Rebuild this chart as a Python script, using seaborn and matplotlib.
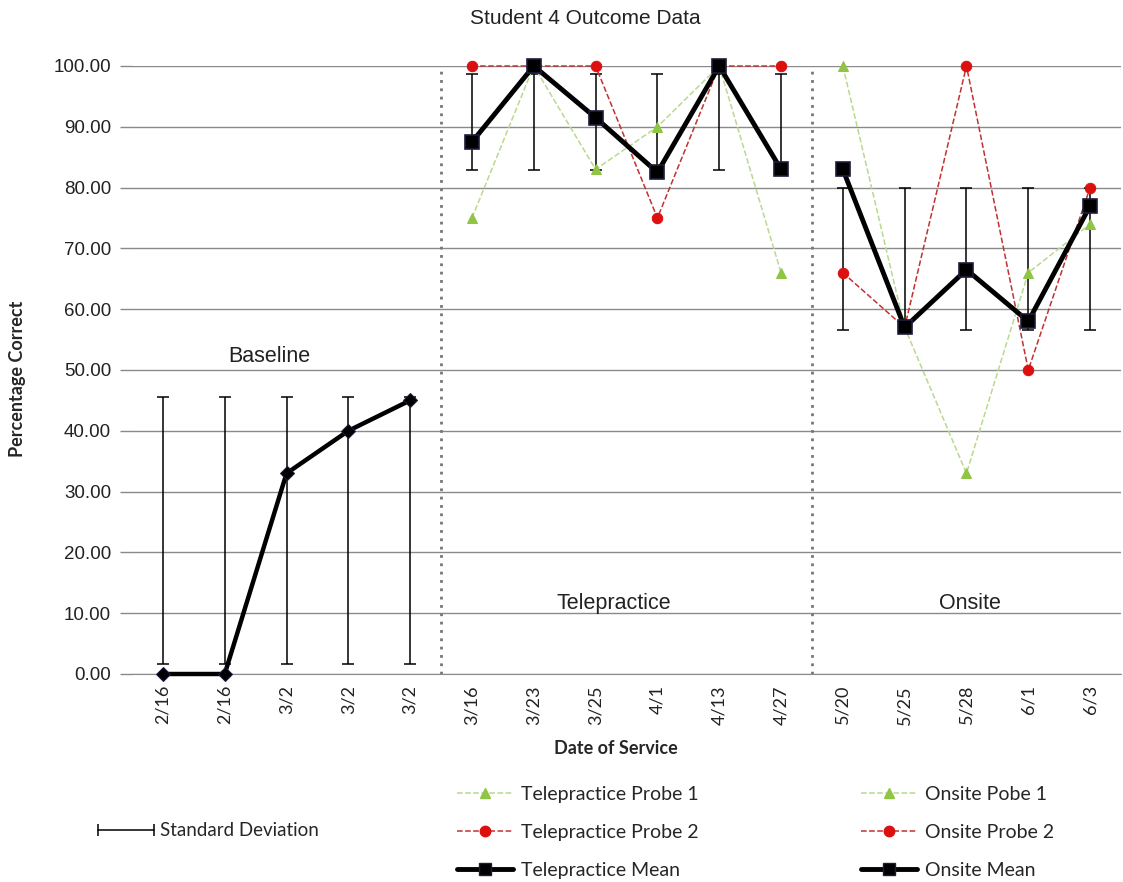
import matplotlib
matplotlib.use("Agg")
import matplotlib.pyplot as plt
from matplotlib.lines import Line2D
import numpy as np
import pandas as pd
import seaborn as sns

# Data

dates = ['2/16', '2/16', '3/2', '3/2', '3/2', '3/16', '3/23', '3/25', '4/1',
         '4/13', '4/27', '5/20', '5/25', '5/28', '6/1', '6/3']

baseline_pos = [0, 1, 2, 3, 4]
tele_pos = [5, 6, 7, 8, 9, 10]
onsite_pos = [11, 12, 13, 14, 15]

baseline_mean = [0, 0, 33, 40, 45]
tele_probe1 = [75, 100, 83, 90, 100, 66]
tele_probe2 = [100, 100, 100, 75, 100, 100]
tele_mean = [87.5, 100, 91.5, 82.5, 100, 83]
onsite_probe1 = [100, 57, 33, 66, 74]
onsite_probe2 = [66, 57, 100, 50, 80]
onsite_mean = [83, 57, 66.5, 58, 77]

# standard deviation of each phase (bars centred on the phase mean, as Excel does)
baseline_sd = 22.0
tele_sd = 7.9
onsite_sd = 11.7

GREEN = '#8fc444'
GREEN_LINE = '#b9d98f'
RED = '#dd1010'
RED_LINE = '#c43030'
NAVY = '#1c1c3c'

sns.set_style("white")

fig = plt.figure(figsize=(11.23, 8.82), dpi=100)
ax = fig.add_axes([132/1123, 1-674/882, (1121-132)/1123, (674-66)/882])

frames = []
for name, pos, vals in [('baseline', baseline_pos, baseline_mean),
                        ('tp1', tele_pos, tele_probe1),
                        ('tp2', tele_pos, tele_probe2),
                        ('tm', tele_pos, tele_mean),
                        ('op1', onsite_pos, onsite_probe1),
                        ('op2', onsite_pos, onsite_probe2),
                        ('om', onsite_pos, onsite_mean)]:
    frames.append(pd.DataFrame({'pos': pos, 'value': vals, 'series': name}))
df = pd.concat(frames, ignore_index=True)

# error bars
for pos, vals, sd in [(baseline_pos, baseline_mean, baseline_sd),
                      (tele_pos, tele_mean, tele_sd),
                      (onsite_pos, onsite_mean, onsite_sd)]:
    centre = np.full(len(pos), np.mean(vals))
    ax.errorbar(pos, centre, yerr=sd, fmt='none', ecolor='black',
                elinewidth=1.1, capsize=4, capthick=1.1, zorder=2)

probe_style = dict(linestyle='--', linewidth=1.1, markersize=7.5, clip_on=False, zorder=3)
for name in ['tp1', 'op1']:
    sns.lineplot(data=df[df.series == name], x='pos', y='value', ax=ax,
                 color=GREEN_LINE, marker='^', markerfacecolor=GREEN,
                 markeredgecolor=GREEN, **probe_style)
for name in ['tp2', 'op2']:
    sns.lineplot(data=df[df.series == name], x='pos', y='value', ax=ax,
                 color=RED_LINE, marker='o', markerfacecolor=RED,
                 markeredgecolor=RED, **probe_style)
for name in ['tm', 'om']:
    sns.lineplot(data=df[df.series == name], x='pos', y='value', ax=ax,
                 color='black', linewidth=3.5, marker='s', markersize=10,
                 markerfacecolor='black', markeredgecolor=NAVY,
                 markeredgewidth=1.2, clip_on=False, zorder=4)
sns.lineplot(data=df[df.series == 'baseline'], x='pos', y='value', ax=ax,
             color='black', linewidth=3.2, marker='D', markersize=7,
             markerfacecolor='black', markeredgecolor=NAVY,
             clip_on=False, zorder=4)

# phase dividers
for xd in [4.5, 10.5]:
    ax.plot([xd, xd], [0, 100], linestyle=(0, (1, 2)), color='#777777',
            linewidth=2, clip_on=False, zorder=1)

ax.set_xlim(-0.5, 15.5)
ax.set_ylim(0, 100)
ax.set_xticks(range(len(dates)))
ax.set_xticklabels(dates, rotation=90, family='Lato', fontsize=13, color='#222222')
ax.set_yticks(np.arange(0, 101, 10))
ax.set_yticklabels([f"{v:.2f}" for v in np.arange(0, 101, 10)],
                   family='Liberation Sans', fontsize=13.5, color='#222222')
ax.tick_params(axis='x', length=0, pad=8)
ax.tick_params(axis='y', length=9, width=1, color='#8a8a8a', pad=6, left=True)
ax.yaxis.grid(True, color='#8a8a8a', linewidth=1)
ax.set_axisbelow(True)
for side in ['top', 'right', 'left']:
    ax.spines[side].set_visible(False)
ax.spines['bottom'].set_color('#8a8a8a')
ax.set_xlabel('')
ax.set_ylabel('')

ax.text(1.72, 52.2, 'Baseline', ha='center', va='center',
        family='Liberation Sans', fontsize=15.5, color='#222222')
ax.text(7.3, 11.6, 'Telepractice', ha='center', va='center',
        family='Liberation Sans', fontsize=15.5, color='#222222')
ax.text(13.05, 11.6, 'Onsite', ha='center', va='center',
        family='Liberation Sans', fontsize=15.5, color='#222222')

fig.text(585/1123, 1-18/882, 'Student 4 Outcome Data', ha='center', va='center',
         family='Liberation Sans', fontsize=15, color='#222222')
fig.text(18/1123, 1-379/882, 'Percentage Correct', rotation=90, ha='center',
         va='center', family='Lato', fontweight='bold', fontsize=13)
fig.text(616/1123, 1-748/882, 'Date of Service', ha='center', va='center',
         family='Lato', fontweight='bold', fontsize=13)

# legends
def probe_handle(col, mcol, mk):
    return Line2D([], [], color=col, linestyle='--', linewidth=1.1, marker=mk,
                  markersize=7.5, markerfacecolor=mcol, markeredgecolor=mcol)

mean_handle = Line2D([], [], color='black', linewidth=3.5, marker='s', markersize=9,
                     markerfacecolor='black', markeredgecolor=NAVY)

leg_kw = dict(loc='upper left', frameon=False, handlelength=2.9, handletextpad=0.4,
              labelspacing=1.08, borderpad=0, borderaxespad=0, numpoints=1,
              prop={'family': 'Lato', 'size': 14})
leg1 = fig.legend([probe_handle(GREEN_LINE, GREEN, '^'), probe_handle(RED_LINE, RED, 'o'), mean_handle],
                  ['Telepractice Probe 1', 'Telepractice Probe 2', 'Telepractice Mean'],
                  bbox_to_anchor=(457/1123, 1-786/882), **leg_kw)
leg2 = fig.legend([probe_handle(GREEN_LINE, GREEN, '^'), probe_handle(RED_LINE, RED, 'o'), mean_handle],
                  ['Onsite Pobe 1', 'Onsite Probe 2', 'Onsite Mean'],
                  bbox_to_anchor=(861/1123, 1-786/882), **leg_kw)
sd_handle = Line2D([], [], color='black', linewidth=1.1, marker='|', markersize=9,
                   markeredgewidth=1.1)
leg3 = fig.legend([sd_handle], ['Standard Deviation'], loc='center left', frameon=False,
                  handlelength=3.6, handletextpad=0.05, numpoints=2, borderpad=0,
                  borderaxespad=0, bbox_to_anchor=(92/1123, 1-831/882),
                  prop={'family': 'Lato', 'size': 13.5})

fig.savefig('out.png', dpi=100)
